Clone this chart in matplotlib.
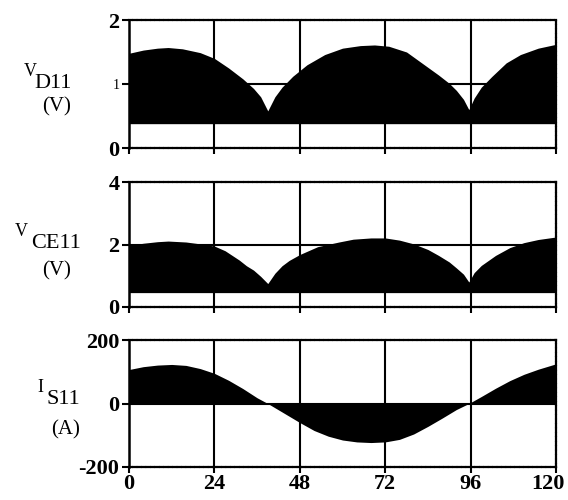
import matplotlib
matplotlib.use("Agg")
import matplotlib.pyplot as plt
from matplotlib.transforms import ScaledTranslation

# time axis and tick labels
x_ticks = [0, 24, 48, 72, 96, 120]

# V_D11 envelope (V), filled down to the conduction baseline
t_vd = [0, 4, 8, 11, 15, 20, 24, 28, 32, 35, 37, 39, 41, 43, 46, 50, 55, 60, 65, 69,
        73, 78, 83, 87, 90, 92, 94, 95.5, 97, 99, 102, 106, 110, 115, 120]
v_vd = [1.48, 1.53, 1.56, 1.57, 1.55, 1.49, 1.40, 1.25, 1.08, 0.93, 0.80, 0.58, 0.80, 0.95,
        1.12, 1.30, 1.46, 1.56, 1.60, 1.61, 1.59, 1.50, 1.30, 1.14, 1.01, 0.90, 0.76, 0.60,
        0.78, 0.95, 1.12, 1.33, 1.46, 1.56, 1.62]
vd_base = 0.38

# V_CE11 envelope (V)
t_vce = [0, 4, 8, 11, 16, 20, 24, 27, 29, 31, 33, 35, 37, 39, 41, 43, 45, 48, 53, 59,
         63, 68, 72, 76, 80, 84, 87, 90, 92, 94, 95.5, 97, 99, 103, 107, 111, 115, 120]
v_vce = [1.97, 2.04, 2.09, 2.11, 2.08, 2.02, 1.95, 1.80, 1.65, 1.50, 1.32, 1.18, 0.98, 0.75,
         1.08, 1.32, 1.49, 1.68, 1.93, 2.08, 2.17, 2.21, 2.21, 2.14, 2.02, 1.84, 1.65, 1.44,
         1.25, 1.05, 0.80, 1.10, 1.33, 1.65, 1.90, 2.06, 2.16, 2.24]
vce_base = 0.46

# I_S11 (A)
t_is = [0, 4, 8, 12, 16, 20, 24, 28, 32, 36, 39, 42, 45, 48, 52, 56, 60, 64, 68, 72,
        76, 80, 84, 88, 92, 95.5, 99, 103, 107, 111, 115, 120]
i_is = [107, 116, 121, 123, 120, 110, 95, 73, 47, 18, 0, -20, -40, -60, -85, -103, -115,
        -121, -123, -121, -113, -96, -72, -46, -19, 0, 22, 48, 72, 92, 108, 125]

W, H = 568, 500
fig = plt.figure(figsize=(W / 100, H / 100), dpi=100)

serif = "Liberation Serif"
tick_size = 16

def style_labels(labels):
    for lbl in labels:
        lbl.set_fontfamily(serif)
        lbl.set_fontweight("bold")
        lbl.set_fontsize(tick_size)

def make_ax(top, bottom, ylim, yticks, ylabels):
    ax = fig.add_axes([129 / W, 1 - bottom / H, (556 - 129) / W, (bottom - top) / H])
    ax.set_xlim(0, 120)
    ax.set_ylim(*ylim)
    for xv in x_ticks[1:-1]:
        ax.axvline(xv, color="black", lw=1.5, zorder=1)
    ax.axhline(yticks[1], color="black", lw=1.5, zorder=1)
    ax.set_yticks(yticks)
    ax.set_yticklabels(ylabels)
    style_labels(ax.get_yticklabels())
    ax.tick_params(axis="y", direction="out", length=5, width=1.5, pad=2)
    ax.set_xticks(x_ticks)
    ax.tick_params(axis="x", direction="out", length=4, width=1.5, labelbottom=False)
    ax.spines["left"].set_linewidth(1.8)
    for s in ("top", "bottom", "right"):
        ax.spines[s].set_linewidth(1.6)
        ax.spines[s].set_linestyle((0, (1.2, 0.8)))
    return ax

ax1 = make_ax(20, 148, (0, 2), [0, 1, 2], ["0", "1", "2"])
ax1.fill_between(t_vd, vd_base, v_vd, color="black", lw=0, zorder=2)
ax1.get_yticklabels()[1].set_fontweight("normal")
ax1.get_yticklabels()[1].set_fontsize(10)

ax2 = make_ax(182, 307, (0, 4), [0, 2, 4], ["0", "2", "4"])
ax2.fill_between(t_vce, vce_base, v_vce, color="black", lw=0, zorder=2)

ax3 = make_ax(340, 467, (-200, 200), [-200, 0, 200], ["-200", "0", "200"])
ax3.fill_between(t_is, 0, i_is, color="black", lw=0, zorder=2)
ax3.tick_params(axis="x", labelbottom=True, pad=1)
ax3.set_xticklabels([str(v) for v in x_ticks])
style_labels(ax3.get_xticklabels())
last = ax3.get_xticklabels()[-1]
last.set_transform(last.get_transform() + ScaledTranslation(-0.08, 0, fig.dpi_scale_trans))

def label(xp, yp, s, size, ha="left"):
    fig.text(xp / W, 1 - yp / H, s, ha=ha, va="center", family=serif, fontsize=size)

label(24, 72, "V", 13)
label(34, 83, "D11", 16)
label(57, 107, "(V)", 15, ha="center")

label(15, 231, "V", 13)
label(31, 244, "CE11", 16)
label(57, 271, "(V)", 15, ha="center")

label(37, 388, "I", 13)
label(46, 400, "S11", 16)
label(66, 430, "(A)", 15, ha="center")

fig.savefig("out.png", dpi=100)
